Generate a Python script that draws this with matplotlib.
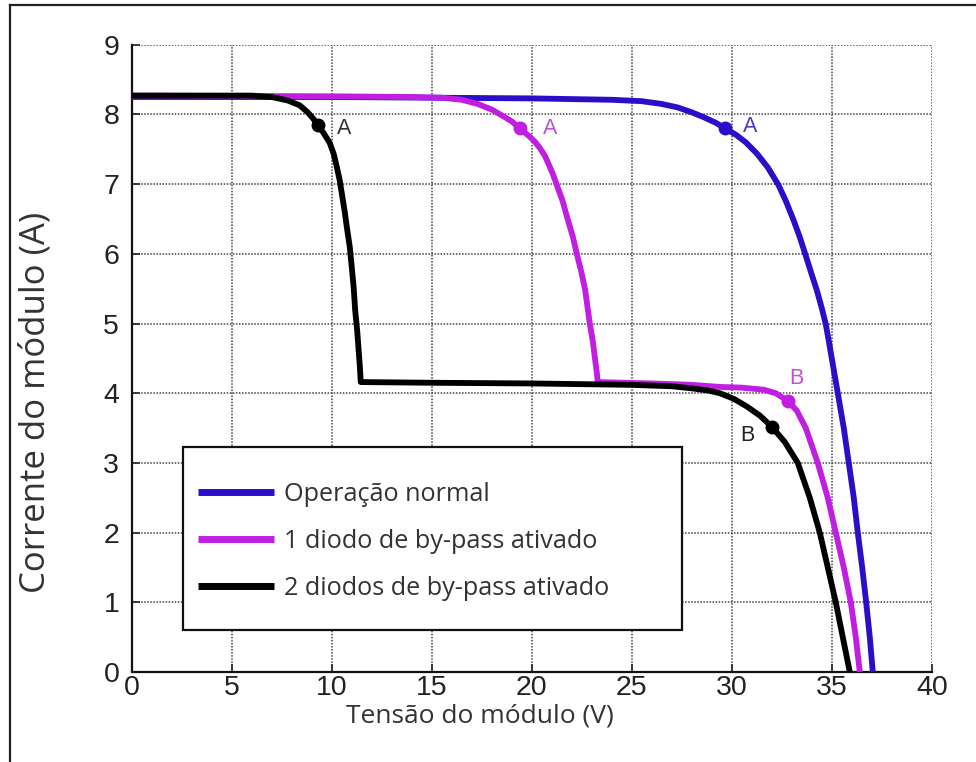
import matplotlib
matplotlib.use("Agg")
import matplotlib.pyplot as plt
from matplotlib.patches import Rectangle
from matplotlib.lines import Line2D

# curvas I-V
v_normal = [0, 10, 20, 24, 25.5, 26.5, 27.3, 28.0, 28.6, 29.2, 29.67, 30.2, 30.7, 31.25, 31.8,
            32.33, 32.7, 33.08, 33.4, 33.67, 34.0, 34.25, 34.5, 34.7, 34.85, 35.0, 35.3,
            35.6, 35.85, 36.1, 36.3, 36.52, 36.72, 36.9, 37.05]
i_normal = [8.25, 8.25, 8.23, 8.21, 8.19, 8.15, 8.1, 8.03, 7.96, 7.88, 7.80, 7.71, 7.6, 7.44, 7.24,
            6.99, 6.76, 6.49, 6.24, 6.0, 5.7, 5.48, 5.22, 4.99, 4.75, 4.5, 4.0,
            3.5, 3.0, 2.5, 2.0, 1.5, 1.0, 0.5, 0]

v_1diodo = [0, 10, 14, 15.5, 16.5, 17.3, 18.0, 18.6, 19.0, 19.4, 19.9, 20.15, 20.4, 20.65, 20.85,
            21.05, 21.25, 21.55, 21.8, 22.05, 22.25, 22.47, 22.67, 22.9, 23.05, 23.15, 23.25, 23.3,
            26, 28, 29.4, 30.5, 31.6, 32.2, 32.8, 33.25, 33.7, 34.3, 34.8, 35.2,
            35.6, 35.95, 36.2, 36.4]
i_1diodo = [8.27, 8.26, 8.25, 8.24, 8.21, 8.15, 8.07, 7.97, 7.9, 7.80, 7.68, 7.61, 7.52, 7.41, 7.28,
            7.15, 6.99, 6.75, 6.49, 6.25, 6.0, 5.75, 5.48, 5.0, 4.75, 4.52, 4.3, 4.16,
            4.14, 4.12, 4.09, 4.08, 4.05, 4.0, 3.89, 3.75, 3.5, 3.0, 2.5, 2.0,
            1.5, 1.0, 0.5, 0]

v_2diodos = [0, 6, 7, 7.8, 8.4, 8.8, 9.07, 9.3, 9.6, 9.9, 10.1, 10.25, 10.4, 10.5, 10.65, 10.75,
             10.9, 11.0, 11.1, 11.17, 11.27, 11.33, 11.4, 11.45,
             15, 20, 25, 27, 28, 28.8, 29.4, 30.1, 30.75, 31.4, 32.0, 32.65, 33.3, 33.9,
             34.4, 34.8, 35.2, 35.55, 35.9]
i_2diodos = [8.27, 8.27, 8.25, 8.2, 8.13, 8.03, 7.94, 7.85, 7.73, 7.59, 7.43, 7.25, 7.05, 6.87, 6.6, 6.39,
             6.1, 5.81, 5.5, 5.19, 4.9, 4.67, 4.4, 4.16,
             4.15, 4.14, 4.12, 4.1, 4.07, 4.04, 4.0, 3.92, 3.81, 3.68, 3.52, 3.3, 3.0, 2.5,
             2.0, 1.5, 1.0, 0.5, 0]

# pontos A e B
pts_v = [29.67, 19.4, 9.3, 32.8, 32.0]
pts_i = [7.80, 7.80, 7.85, 3.89, 3.52]
pts_cor = ['#2a0fc8', '#c01ee0', '#000000', '#c01ee0', '#000000']
rot_txt = ['A', 'A', 'A', 'B', 'B']
rot_v = [30.9, 20.9, 10.6, 33.25, 30.8]
rot_i = [7.82, 7.80, 7.80, 4.21, 3.40]
rot_cor = ['#4a3cc0', '#c050d8', '#333333', '#c050d8', '#222222']

series = ['Operação normal', '1 diodo de by-pass ativado', '2 diodos de by-pass ativado']
cores = ['#2a0fc8', '#c01ee0', '#000000']

fig = plt.figure(figsize=(9.76, 7.62), dpi=100)
ax = fig.add_axes([0.135, 0.1181, 0.8197, 0.8232])

for v, i, c, lab in zip([v_normal, v_1diodo, v_2diodos], [i_normal, i_1diodo, i_2diodos], cores, series):
    ax.plot(v, i, color=c, lw=4.2, label=lab, solid_capstyle='butt', solid_joinstyle='round', zorder=3)

for v, i, c in zip(pts_v, pts_i, pts_cor):
    ax.plot(v, i, 'o', color=c, ms=9, zorder=4)
for t, v, i, c in zip(rot_txt, rot_v, rot_i, rot_cor):
    ax.text(v, i, t, color=c, fontsize=15.5, family='Liberation Sans', ha='center', va='center')

ax.set_xlim(0, 40)
ax.set_ylim(0, 9)
ax.set_xticks(range(0, 41, 5))
ax.set_yticks(range(0, 10))
ax.grid(True, linestyle=(0, (1, 1)), color='#444444', lw=1.1)
ax.set_axisbelow(True)
for s in ['top', 'right']:
    ax.spines[s].set_visible(False)
for s in ['left', 'bottom']:
    ax.spines[s].set_linewidth(1.6)
    ax.spines[s].set_color('#111111')
ax.tick_params(direction='in', length=6, width=1.2, labelsize=20.5, colors='#222222')
ax.tick_params(axis='y', pad=9)
ax.tick_params(axis='x', pad=2)
for lbl in ax.get_xticklabels() + ax.get_yticklabels():
    lbl.set_family('Liberation Sans')

ax.set_xlabel('Tensão do módulo (V)', fontsize=19, family='Open Sans', color='#333333')
ax.set_ylabel('Corrente do módulo (A)', fontsize=25, family='Open Sans', color='#333333')
ax.xaxis.set_label_coords(0.435, -0.05)
ax.yaxis.set_label_coords(-0.099, 0.43)

# caixa da legenda
caixa = Rectangle((0.0641, 0.067), 0.624, 0.292, transform=ax.transAxes,
                  facecolor='white', edgecolor='#111111', lw=1.6, zorder=5)
ax.add_patch(caixa)
leg = ax.legend(loc='upper left', bbox_to_anchor=(0.0829, 0.303), frameon=False,
                borderpad=0, borderaxespad=0, handlelength=3.0, handletextpad=0.4,
                labelspacing=0.87, prop={'family': 'Open Sans', 'size': 18.2})
leg.set_zorder(6)
for t in leg.get_texts():
    t.set_color('#333333')
for h in leg.get_lines():
    h.set_linewidth(5)

# moldura da figura
fig.add_artist(Line2D([0.0102, 0.0102], [0, 0.9934], transform=fig.transFigure, color='#222222', lw=1.6))
fig.add_artist(Line2D([0.0102, 1], [0.9934, 0.9934], transform=fig.transFigure, color='#222222', lw=1.6))

fig.savefig('out.png', dpi=100)
